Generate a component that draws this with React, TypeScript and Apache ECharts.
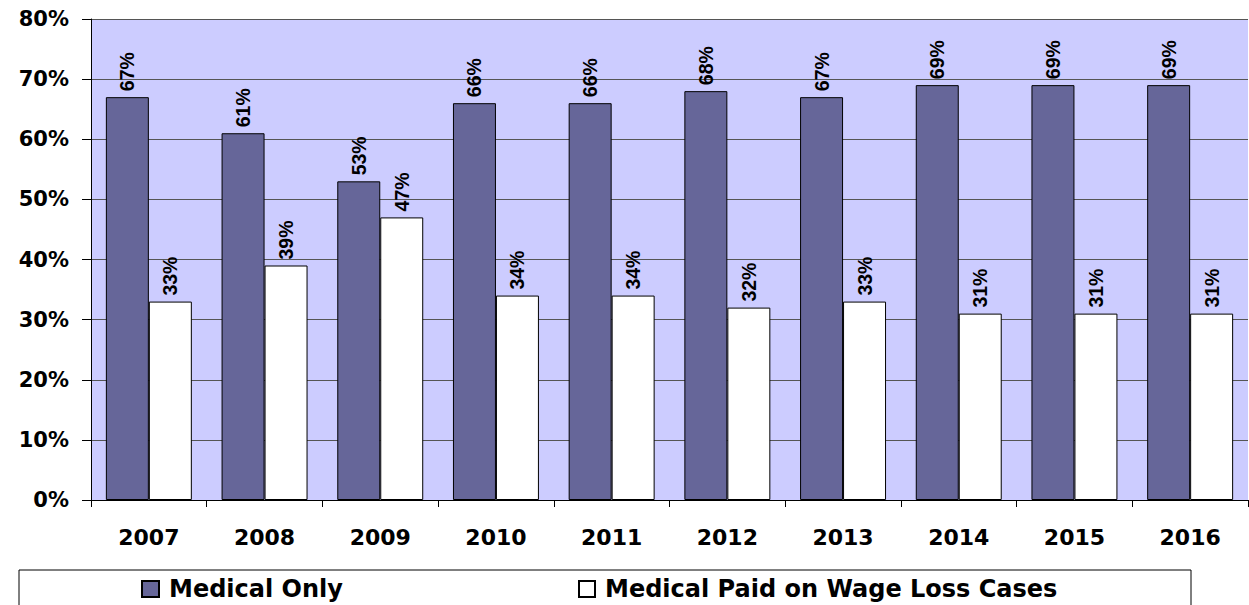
import React, { useEffect, useRef } from "react";
import * as echarts from "echarts";

const years = ["2007", "2008", "2009", "2010", "2011", "2012", "2013", "2014", "2015", "2016"];
const medicalOnly = [67, 61, 53, 66, 66, 68, 67, 69, 69, 69];
const medicalWageLoss = [33, 39, 47, 34, 34, 32, 33, 31, 31, 31];
const seriesNames = ["Medical Only", "Medical Paid on Wage Loss Cases"];

const FONT = "DejaVu Sans";
const LABEL_FONT = "'Liberation Sans', Arial, sans-serif";

export default function App() {
  const ref = useRef<HTMLDivElement>(null);
  useEffect(() => {
    const chart = echarts.init(ref.current!, null, { renderer: "svg" });
    const label = {
      show: true,
      position: "top",
      rotate: 90,
      align: "left",
      verticalAlign: "middle",
      distance: 6,
      formatter: "{c}%",
      fontFamily: LABEL_FONT,
      fontWeight: "bold",
      fontSize: 19.5,
      color: "#000",
    };
    const legendText = {
      fontFamily: FONT,
      fontWeight: "bold",
      fontSize: 24,
      color: "#000",
      padding: [0, 0, 0, 5],
    };
    chart.setOption({
      animation: false,
      backgroundColor: "#fff",
      grid: {
        left: 91,
        top: 19,
        right: 1,
        bottom: 105,
        show: true,
        backgroundColor: "#CCCCFF",
        borderWidth: 0,
      },
      legend: [
        {
          left: 136,
          top: 572,
          itemWidth: 17,
          itemHeight: 16,
          icon: "rect",
          textStyle: legendText,
          data: [seriesNames[0]],
        },
        {
          left: 573,
          top: 572,
          itemWidth: 16,
          itemHeight: 16,
          icon: "rect",
          textStyle: legendText,
          data: [seriesNames[1]],
        },
      ],
      graphic: [
        {
          type: "rect",
          shape: { x: 19, y: 570, width: 1172, height: 60 },
          style: { fill: "none", stroke: "#000", lineWidth: 1 },
          silent: true,
          z: -1,
        },
      ],
      xAxis: {
        type: "category",
        data: years,
        axisLine: { lineStyle: { color: "#000", width: 1 } },
        axisTick: { show: true, length: 7, lineStyle: { color: "#000" } },
        axisLabel: {
          margin: 26,
          fontFamily: FONT,
          fontWeight: "bold",
          fontSize: 22,
          color: "#000",
        },
        splitLine: { show: false },
      },
      yAxis: {
        type: "value",
        min: 0,
        max: 80,
        interval: 10,
        axisLine: { show: true, lineStyle: { color: "#000", width: 1 } },
        axisTick: { show: true, length: 9, lineStyle: { color: "#000" } },
        axisLabel: {
          margin: 22,
          formatter: "{value}%",
          fontFamily: FONT,
          fontWeight: "bold",
          fontSize: 21,
          color: "#000",
        },
        splitLine: { show: true, lineStyle: { color: "#555", width: 1 } },
      },
      series: [
        {
          name: seriesNames[0],
          type: "bar",
          data: medicalOnly,
          barGap: "0%",
          barCategoryGap: "25.7%",
          itemStyle: { color: "#666699", borderColor: "#000", borderWidth: 1 },
          label,
        },
        {
          name: seriesNames[1],
          type: "bar",
          data: medicalWageLoss,
          itemStyle: { color: "#FFFFFF", borderColor: "#000", borderWidth: 1 },
          label,
        },
      ],
    });
    return () => chart.dispose();
  }, []);
  return (
    <div
      ref={ref}
      style={{ position: "fixed", left: 0, top: 0, width: 1249, height: 605 }}
    />
  );
}
